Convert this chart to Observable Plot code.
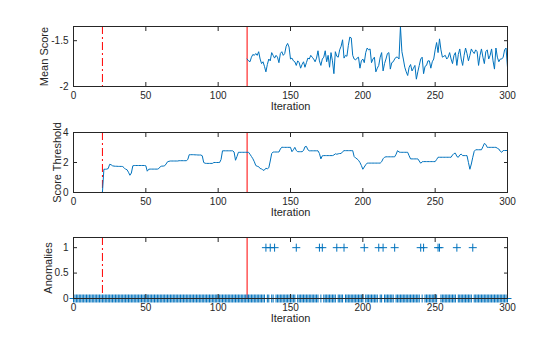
<!DOCTYPE html>
<html><head><meta charset="utf-8">
<script src="https://cdn.jsdelivr.net/npm/d3@7"></script>
<script src="https://cdn.jsdelivr.net/npm/@observablehq/plot@0.6"></script>
<style>
body{margin:0;background:#fff;}
#chart{position:relative;width:560px;height:337px;font-family:"Liberation Sans",Arial,sans-serif;background:#fff;}
#chart svg{position:absolute;left:0;overflow:visible;}
</style></head><body><div id="chart"></div>
<script>
// ---- data ----
const xTicks = [0, 50, 100, 150, 200, 250, 300];
const meanTicks = [-2, -1.5];
const meanTickLabels = ["-2", "-1.5"];
const thrTicks = [0, 2, 4];
const thrTickLabels = ["0", "2", "4"];
const anomTicks = [0, 0.5, 1];
const anomTickLabels = ["0", "0.5", "1"];
const warmupIter = 20;
const startIter = 120;
const meanStart = 120;
const meanScore = [
 -1.70,-1.72,-1.73,-1.68,-1.65,-1.66,-1.64,-1.66,-1.62,-1.70,
 -1.75,-1.73,-1.78,-1.84,-1.76,-1.70,-1.72,-1.63,-1.66,-1.69,
 -1.66,-1.68,-1.74,-1.64,-1.62,-1.66,-1.64,-1.56,-1.53,-1.57,
 -1.70,-1.69,-1.72,-1.73,-1.77,-1.72,-1.74,-1.80,-1.76,-1.73,
 -1.79,-1.74,-1.69,-1.70,-1.66,-1.68,-1.70,-1.73,-1.69,-1.61,
 -1.72,-1.77,-1.70,-1.68,-1.61,-1.73,-1.66,-1.79,-1.63,-1.72,
 -1.86,-1.62,-1.67,-1.68,-1.60,-1.56,-1.49,-1.69,-1.66,-1.67,
 -1.55,-1.46,-1.47,-1.66,-1.70,-1.71,-1.69,-1.68,-1.80,-1.72,
 -1.70,-1.74,-1.63,-1.58,-1.60,-1.59,-1.74,-1.70,-1.68,-1.84,
 -1.80,-1.77,-1.68,-1.63,-1.83,-1.75,-1.70,-1.64,-1.63,-1.81,
 -1.74,-1.73,-1.70,-1.68,-1.68,-1.70,-1.345,-1.62,-1.70,-1.79,
 -1.84,-1.88,-1.79,-1.76,-1.83,-1.80,-1.77,-1.92,-1.84,-1.77,
 -1.70,-1.68,-1.86,-1.78,-1.77,-1.72,-1.72,-1.80,-1.73,-1.70,
 -1.60,-1.52,-1.63,-1.48,-1.60,-1.68,-1.67,-1.66,-1.70,-1.68,
 -1.63,-1.70,-1.75,-1.66,-1.63,-1.77,-1.65,-1.59,-1.70,-1.77,
 -1.66,-1.58,-1.64,-1.72,-1.66,-1.59,-1.62,-1.64,-1.60,-1.62,
 -1.77,-1.66,-1.59,-1.68,-1.75,-1.62,-1.60,-1.70,-1.66,-1.59,
 -1.72,-1.81,-1.58,-1.68,-1.73,-1.70,-1.70,-1.68,-1.60,-1.58,
 -1.79
];
const threshold = [
 0,0,0,0,0,0,0,0,0,0,
 0,0,0,0,0,0,0,0,0,0,
 0,1.55,1.55,1.56,1.60,1.88,1.85,1.78,1.76,1.75,
 1.75,1.74,1.74,1.74,1.73,1.65,1.55,1.52,1.35,1.15,
 1.30,1.78,1.80,1.80,1.80,1.80,1.80,1.80,1.80,1.80,
 1.78,1.42,1.55,1.56,1.56,1.56,1.56,1.56,1.56,1.60,
 1.72,1.76,1.76,1.78,1.90,2.05,2.08,2.10,2.10,2.10,
 2.10,2.10,2.10,2.12,2.12,2.12,2.12,2.12,2.12,2.20,
 2.52,2.52,2.52,2.52,2.51,2.51,2.50,2.50,2.50,2.45,
 2.00,1.95,1.94,1.94,1.94,1.94,1.94,2.00,2.00,2.00,
 2.00,2.00,2.20,2.78,2.78,2.78,2.78,2.78,2.78,2.78,
 2.78,2.70,2.15,2.40,2.68,2.68,2.68,2.68,2.68,2.68,
 2.68,2.68,2.55,2.40,2.25,2.05,1.80,1.75,1.72,1.60,
 1.58,1.48,1.50,1.62,1.58,1.65,2.10,2.60,2.70,2.70,
 2.70,2.70,2.70,2.90,3.02,3.01,3.01,3.01,3.01,3.01,
 3.01,2.72,2.85,3.01,2.80,2.72,2.72,2.72,2.72,2.80,
 3.05,3.07,2.85,2.78,2.78,2.78,2.78,2.78,2.78,2.78,
 2.60,2.24,2.45,2.46,2.46,2.46,2.46,2.46,2.46,2.46,
 2.50,2.58,2.55,2.58,2.60,2.60,2.72,2.79,2.79,2.79,
 2.79,2.79,2.79,2.79,2.40,2.30,2.24,2.15,2.00,1.80,
 1.55,1.70,1.85,1.96,1.96,1.96,1.96,1.96,1.96,1.96,
 1.96,1.96,1.96,2.05,2.25,2.35,2.38,2.38,2.38,2.38,
 2.38,2.38,2.38,2.55,2.79,2.70,2.68,2.68,2.68,2.68,
 2.68,2.68,2.45,2.24,2.24,2.24,2.24,2.24,2.24,2.10,
 1.95,2.05,2.06,2.06,2.06,2.06,2.06,2.06,2.06,2.06,
 2.06,2.20,2.35,2.35,2.35,2.35,2.35,2.35,2.35,2.35,
 2.35,2.35,2.50,2.60,2.62,2.40,2.35,2.50,2.56,2.46,
 2.46,2.46,2.46,2.00,1.55,1.90,2.35,2.75,2.85,2.85,
 2.85,2.85,2.85,3.05,3.27,3.20,3.01,3.01,3.01,3.01,
 3.01,3.01,3.01,2.95,2.90,2.75,2.68,2.80,2.80,2.80,
 2.80
];
const anomalyIters = [133,136,139,154,170,172,182,187,201,211,214,222,240,242,252,253,265,276];

// ---- build tables ----
const meanData = meanScore.map((v, i) => ({it: meanStart + i, v}));
const thrData = threshold.map((v, i) => ({it: i, v}));
const anomSet = new Set(anomalyIters);
const anomData = threshold.map((_, i) => ({it: i, v: anomSet.has(i) ? 1 : 0}));

const BLUE = "#0072BD";
const AX = "#262626";
const FONT = '"Liberation Sans", Arial, Helvetica, sans-serif';
const plusSymbol = {
  draw(ctx, size) {
    const r = Math.sqrt(size / Math.PI);
    ctx.moveTo(-r, 0); ctx.lineTo(r, 0);
    ctx.moveTo(0, -r); ctx.lineTo(0, r);
  }
};

function panel({top, height, mt, mb, yDomain, yTicks, yTickLabels, yLabel, yLabelDx, marks}) {
  const svg = Plot.plot({
    width: 560, height, marginLeft: 73, marginRight: 53, marginTop: mt, marginBottom: mb,
    style: {fontFamily: FONT, fontSize: "10px", color: AX, background: "transparent", overflow: "visible"},
    x: {domain: [0, 300]},
    y: {domain: yDomain},
    marks: [
      Plot.ruleX([warmupIter], {stroke: "#ff0000", strokeWidth: 1, strokeDasharray: "8,3,2,3"}),
      Plot.ruleX([startIter], {stroke: "#ff0000", strokeWidth: 1}),
      ...marks,
      Plot.frame({stroke: AX}),
      Plot.axisX({anchor: "bottom", ticks: xTicks, tickSize: -4, tickPadding: 9, label: null, stroke: AX, fill: AX, tickFormat: d => String(d)}),
      Plot.axisX({anchor: "top", ticks: xTicks, tickSize: -4, tickFormat: () => "", label: null, stroke: AX}),
      Plot.axisY({anchor: "left", ticks: yTicks, tickSize: -4, tickPadding: 9, label: null, stroke: AX, fill: AX,
        tickFormat: d => yTickLabels[yTicks.indexOf(d)]}),
      Plot.axisY({anchor: "right", ticks: yTicks, tickSize: -4, tickFormat: () => "", label: null, stroke: AX}),
      Plot.text(["Iteration"], {frameAnchor: "bottom", dy: 23, fontSize: 11, fill: AX, textAnchor: "middle"}),
      Plot.text([yLabel], {frameAnchor: "left", rotate: -90, dx: yLabelDx, fontSize: 11, fill: AX, textAnchor: "middle"})
    ]
  });
  svg.style.top = top + "px";
  document.getElementById("chart").appendChild(svg);
}

panel({top: 0, height: 112, mt: 26, mb: 26, yDomain: [-2, -1.345], yTicks: meanTicks, yTickLabels: meanTickLabels,
  yLabel: "Mean Score", yLabelDx: -29,
  marks: [Plot.line(meanData, {x: "it", y: "v", stroke: BLUE, strokeWidth: 1})]});

panel({top: 106, height: 112, mt: 26, mb: 26, yDomain: [0, 4], yTicks: thrTicks, yTickLabels: thrTickLabels,
  yLabel: "Score Threshold", yLabelDx: -16,
  marks: [Plot.line(thrData, {x: "it", y: "v", stroke: BLUE, strokeWidth: 1})]});

panel({top: 211, height: 126, mt: 26, mb: 39, yDomain: [0, 1.2], yTicks: anomTicks, yTickLabels: anomTickLabels,
  yLabel: "Anomalies", yLabelDx: -25,
  marks: [Plot.dot(anomData, {x: "it", y: "v", symbol: plusSymbol, r: 4, stroke: BLUE, fill: "none", strokeWidth: 1})]});
</script></body></html>
